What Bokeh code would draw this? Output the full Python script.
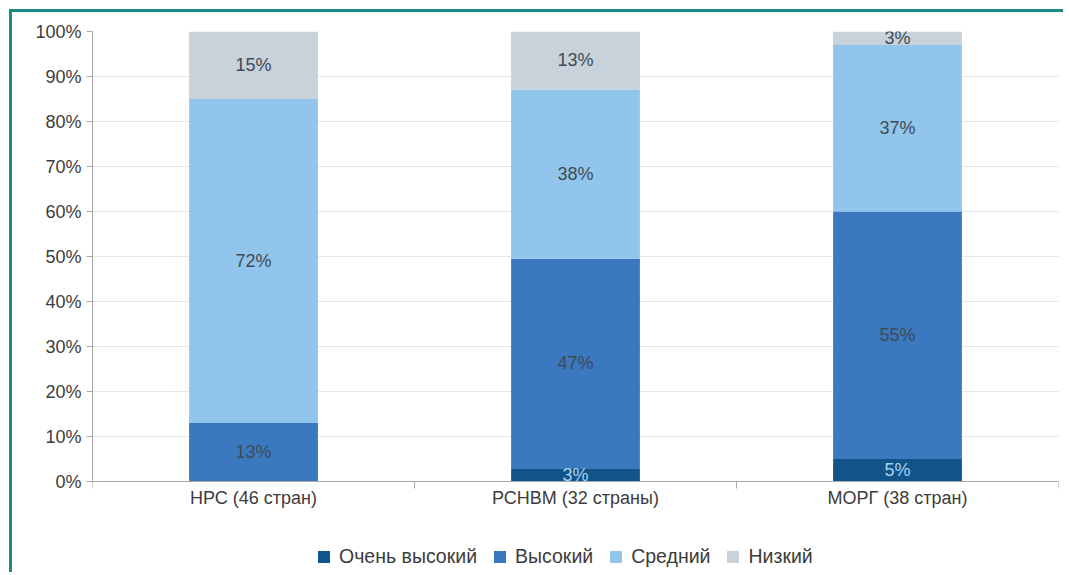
from bokeh.plotting import figure
from bokeh.models import (ColumnDataSource, FixedTicker, NumeralTickFormatter, Legend,
                          LegendItem, Range1d)
from bokeh.core.properties import value
from bokeh.embed import file_html
from bokeh.resources import INLINE

categories = ["НРС (46 стран)", "РСНВМ (32 страны)", "МОРГ (38 стран)"]
series = ["Очень высокий", "Высокий", "Средний", "Низкий"]
very_high = [0, 3, 5]
high = [13, 47, 55]
medium = [72, 38, 37]
low = [15, 13, 3]
colors = ["#115489", "#3a78c0", "#92c5ec", "#c8d2db"]
label_colors = ["#a9d2f3", "#3f4a55", "#3f4a55", "#3f4a55"]

FONT = "Liberation Sans"
AXIS_COLOR = "#a8a8a8"
vals = [very_high, high, medium, low]
n = len(categories)
xs = [i + 0.5 for i in range(n)]
totals = [sum(v[i] for v in vals) for i in range(n)]
fracs = [[v[i] / totals[i] for i in range(n)] for v in vals]

W, H = 1054, 563
TOP, BOTTOM = 19, 2
PLOT_PX = 450                      # pixels for 0..100 %
frame_h = H - TOP - BOTTOM
px = 1.0 / PLOT_PX                 # data units per pixel
ymin = -(frame_h - PLOT_PX) * px

p = figure(width=W, height=H, output_backend="svg", toolbar_location=None,
           x_range=Range1d(0, n), y_range=Range1d(ymin, 1), x_axis_location=None,
           min_border_left=80, min_border_right=8, min_border_top=TOP, min_border_bottom=BOTTOM)
p.margin = (9, 0, 0, 9)
p.styles = {"border-top": "3px solid #178a83", "border-left": "3px solid #178a83"}
p.outline_line_color = None
p.background_fill_color = "white"
p.border_fill_color = "white"

data = {"x": xs}
for s, f in zip(series, fracs):
    data[s] = f
src = ColumnDataSource(data)
rends = p.vbar_stack(series, x="x", width=0.4, color=colors, source=src, line_color=None)

# value labels
lx, ly, lt, lc = [], [], [], []
for j in range(n):
    bottom = 0.0
    for k, s in enumerate(series):
        fr = fracs[k][j]
        if vals[k][j] > 0:
            lx.append(xs[j])
            ly.append(bottom + fr / 2)
            lt.append(f"{vals[k][j]}%")
            lc.append(label_colors[k])
        bottom += fr
lsrc = ColumnDataSource(dict(x=lx, y=ly, t=lt, c=lc))
p.text(x="x", y="y", text="t", source=lsrc, text_color="c", text_align="center",
       text_baseline="middle", text_font=value(FONT), text_font_size="18px")

# category axis (drawn at y = 0)
p.segment(x0=[0], y0=[0], x1=[n], y1=[0], line_color=AXIS_COLOR, line_width=1)
bounds = [float(i) for i in range(n + 1)]
p.segment(x0=bounds, y0=[0] * len(bounds), x1=bounds, y1=[-7 * px] * len(bounds),
          line_color=AXIS_COLOR, line_width=1)
p.text(x=xs, y=[0] * n, text=categories, y_offset=16, text_align="center",
       text_baseline="middle", text_font=value(FONT), text_font_size="18px",
       text_color="#3c3c3c")

# y axis
p.yaxis.ticker = FixedTicker(ticks=[i / 10 for i in range(11)], minor_ticks=[])
p.yaxis.bounds = (0, 1)
p.yaxis.formatter = NumeralTickFormatter(format="0%")
p.yaxis.axis_line_color = AXIS_COLOR
p.yaxis.major_tick_line_color = AXIS_COLOR
p.yaxis.major_tick_out = 6
p.yaxis.major_tick_in = 0
p.yaxis.major_label_standoff = 5
p.yaxis.major_label_text_font = FONT
p.yaxis.major_label_text_font_size = "18px"
p.yaxis.major_label_text_color = "#3c3c3c"

p.xgrid.grid_line_color = None
p.ygrid.grid_line_color = "#e6e6e6"
p.ygrid.ticker = p.yaxis.ticker

legend = Legend(items=[LegendItem(label=s, renderers=[r]) for s, r in zip(series, rends)],
                orientation="horizontal", location=(224, 5), padding=0, margin=0,
                spacing=15, glyph_width=15, glyph_height=15, label_standoff=8,
                label_text_font=FONT, label_text_font_size="19.5px", label_text_color="#3c3c3c",
                border_line_color=None, background_fill_alpha=0)
p.add_layout(legend, "center")

open("out.html", "w").write(file_html(p, INLINE))
